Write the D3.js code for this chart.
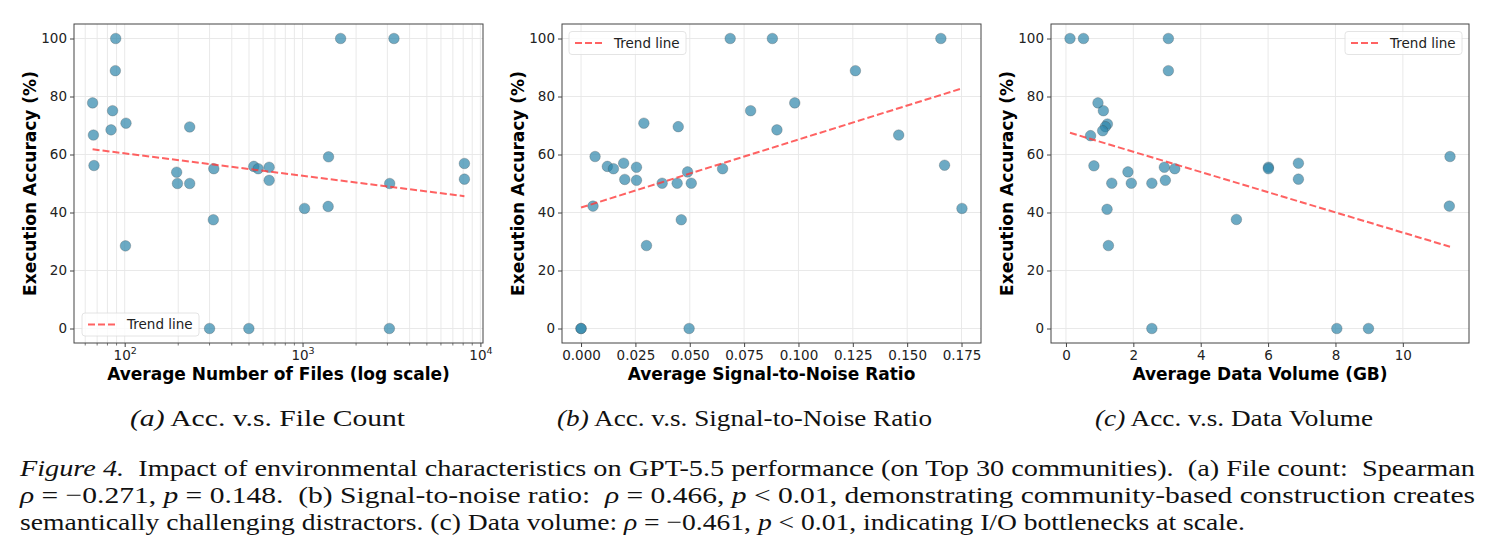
<!DOCTYPE html>
<html>
<head>
<meta charset="utf-8">
<script src="https://cdn.jsdelivr.net/npm/d3@7"></script>
<style>
body { margin: 0; background: #fff; }
text { font-family: "DejaVu Sans", sans-serif; }
</style>
</head>
<body>
<div id="graph"></div>
<script>
var W = 1491, H = 560;

// y values are execution accuracy (%) of the top 30 communities
var yTicks = [0, 20, 40, 60, 80, 100];

// (a) average number of files
var filesX = [89, 1637, 3266, 88.6, 66, 85.5, 83.8, 101.7, 232, 66.7, 67.2, 196, 198, 232, 317,
	532, 563, 649, 649, 1400, 8130, 8130, 3090, 1026, 1393, 315, 101, 300, 499, 3077];
var filesY = [100, 100, 100, 88.9, 77.8, 75.1, 68.5, 70.8, 69.5, 66.7, 56.2, 53.9, 50, 50, 55.1,
	55.9, 55.1, 55.6, 51.1, 59.2, 56.9, 51.5, 50, 41.4, 42.1, 37.5, 28.5, 0, 0, 0];
var filesMajor = [100, 1000, 10000];

// (b) average signal-to-noise ratio
var snrX = [0.0686, 0.088, 0.1655, 0.1262, 0.0983, 0.078, 0.0289, 0.0447, 0.0901, 0.1461, 0.00645,
	0.1672, 0.0196, 0.0121, 0.0149, 0.0255, 0.0201, 0.0255, 0.049, 0.0651, 0.0373, 0.0442, 0.0507,
	0.0055, 0.1752, 0.0461, 0.0301, 0, 0, 0.0497];
var snrY = [100, 100, 100, 88.9, 77.8, 75.1, 70.8, 69.6, 68.5, 66.7, 59.3, 56.3, 57, 55.9, 55.1,
	55.6, 51.4, 51.1, 54, 55.1, 50.1, 50.1, 50.1, 42.2, 41.4, 37.5, 28.6, 0, 0, 0];
var snrTicks = [0, 0.025, 0.05, 0.075, 0.1, 0.125, 0.15, 0.175];

// (c) average data volume (GB)
var volX = [0.12, 0.52, 3.04, 3.04, 0.95, 1.11, 1.23, 1.17, 1.09, 0.73, 0.83, 11.4, 6.9, 6.9, 6.01,
	6.01, 2.92, 3.23, 2.95, 1.84, 1.36, 1.94, 2.55, 1.22, 11.38, 5.06, 1.26, 2.55, 8.04, 8.98];
var volY = [100, 100, 100, 88.9, 77.8, 75.1, 70.5, 69.6, 68.2, 66.5, 56.1, 59.3, 57, 51.5, 55.6,
	55.1, 55.6, 55.1, 51.1, 54, 50.1, 50.1, 50.1, 41.1, 42.2, 37.6, 28.6, 0, 0, 0];
var volTicks = [0, 2, 4, 6, 8, 10];

var subCaptions = ["Acc. v.s. File Count", "Acc. v.s. Signal-to-Noise Ratio", "Acc. v.s. Data Volume"];
var subLetters = ["(a)", "(b)", "(c)"];
var xLabels = ["Average Number of Files (log scale)", "Average Signal-to-Noise Ratio", "Average Data Volume (GB)"];

var serif = "'Liberation Serif', 'Times New Roman', Times, serif";

var svg = d3.select("#graph")
	.append("svg")
	.attr("width", W)
	.attr("height", H);

function fit(xs, ys) {
	var mx = d3.mean(xs), my = d3.mean(ys);
	var sxy = d3.sum(xs, function(d, i) { return (d - mx) * (ys[i] - my); });
	var sxx = d3.sum(xs, function(d) { return (d - mx) * (d - mx); });
	var b = sxy / sxx;
	return { slope: b, icpt: my - b * mx };
}

function pad(ext) {
	var r = ext[1] - ext[0];
	return [ext[0] - 0.05 * r, ext[1] + 0.05 * r];
}

var panels = [
	{ left: 74, right: 483, xs: filesX, ys: filesY, log: true, legend: "ll", labelX: 30, capX: 130, capW: 275 },
	{ left: 562, right: 981, xs: snrX, ys: snrY, log: false, ticks: snrTicks, fmt: d3.format(".3f"), legend: "ul", labelX: 518, capX: 557, capW: 375 },
	{ left: 1051, right: 1469, xs: volX, ys: volY, log: false, ticks: volTicks, fmt: d3.format("d"), legend: "ur", labelX: 1007, capX: 1095, capW: 278 }
];
var plotTop = 24, plotBottom = 343;

panels.forEach(function(p, k) {
	var w = p.right - p.left, h = plotBottom - plotTop;
	var g = svg.append("g").attr("transform", "translate(" + p.left + "," + plotTop + ")");

	var x;
	if (p.log) {
		var le = pad(d3.extent(p.xs, function(d) { return Math.log10(d); }));
		x = d3.scaleLog().domain([Math.pow(10, le[0]), Math.pow(10, le[1])]).range([0, w]);
	} else {
		x = d3.scaleLinear().domain(pad(d3.extent(p.xs))).range([0, w]);
	}
	var y = d3.scaleLinear().domain(pad(d3.extent(p.ys))).range([h, 0]);

	// grid
	var xGrid, minor = [];
	if (p.log) {
		var dom = x.domain();
		[1, 2, 3].forEach(function(e) {
			for (var m = 2; m <= 9; m++) {
				var v = m * Math.pow(10, e);
				if (v > dom[0] && v < dom[1]) minor.push(v);
			}
		});
		xGrid = filesMajor.filter(function(v) { return v < dom[1]; }).concat(minor);
	} else {
		xGrid = p.ticks;
	}
	g.selectAll(".gx").data(xGrid).enter().append("line")
		.attr("x1", function(d) { return x(d); })
		.attr("x2", function(d) { return x(d); })
		.attr("y1", 0).attr("y2", h)
		.attr("stroke", "#e6e6e6").attr("stroke-width", 0.9);
	g.selectAll(".gy").data(yTicks).enter().append("line")
		.attr("x1", 0).attr("x2", w)
		.attr("y1", function(d) { return y(d); })
		.attr("y2", function(d) { return y(d); })
		.attr("stroke", "#e6e6e6").attr("stroke-width", 0.9);

	// points
	g.selectAll(".pt").data(p.xs).enter().append("circle")
		.attr("cx", function(d) { return x(d); })
		.attr("cy", function(d, i) { return y(p.ys[i]); })
		.attr("r", 5.3)
		.attr("fill", "#2E86AB")
		.attr("fill-opacity", 0.7)
		.attr("stroke", "#444")
		.attr("stroke-opacity", 0.45)
		.attr("stroke-width", 0.6);

	// trend line (least squares, on log10 x for the file count panel)
	var tx = p.log ? p.xs.map(function(d) { return Math.log10(d); }) : p.xs;
	var f = fit(tx, p.ys);
	var ex = d3.extent(p.xs);
	var tline = ex.map(function(d) {
		var t = p.log ? Math.log10(d) : d;
		return [x(d), y(f.icpt + f.slope * t)];
	});
	g.append("path")
		.attr("d", d3.line()(tline))
		.attr("fill", "none")
		.attr("stroke", "#ff3b3b")
		.attr("stroke-opacity", 0.8)
		.attr("stroke-width", 2)
		.attr("stroke-dasharray", "7,3");

	// frame
	g.append("rect").attr("width", w).attr("height", h)
		.attr("fill", "none").attr("stroke", "#444").attr("stroke-width", 1);

	// axes
	var ya = g.append("g").call(d3.axisLeft(y).tickValues(yTicks).tickSize(4).tickPadding(3));
	var xa;
	if (p.log) {
		xa = g.append("g").attr("transform", "translate(0," + h + ")")
			.call(d3.axisBottom(x).tickValues(filesMajor).tickSize(4).tickPadding(3).tickFormat(""));
		xa.selectAll(".tick").append("text")
			.attr("fill", "#222").attr("y", 16.5).attr("text-anchor", "middle")
			.style("font-size", "13.5px")
			.each(function(d) {
				var t = d3.select(this);
				t.append("tspan").text("10");
				t.append("tspan").attr("dy", -6).style("font-size", "9.5px").text(Math.round(Math.log10(d)));
			});
		g.append("g").attr("transform", "translate(0," + h + ")")
			.selectAll("line").data(minor).enter().append("line")
			.attr("x1", function(d) { return x(d); }).attr("x2", function(d) { return x(d); })
			.attr("y1", 0).attr("y2", 2.5).attr("stroke", "#444").attr("stroke-width", 0.7);
	} else {
		xa = g.append("g").attr("transform", "translate(0," + h + ")")
			.call(d3.axisBottom(x).tickValues(p.ticks).tickSize(4).tickPadding(3).tickFormat(p.fmt));
	}
	[ya, xa].forEach(function(a) {
		a.select(".domain").remove();
		a.selectAll("line").attr("stroke", "#444");
		a.selectAll("text").attr("fill", "#222").style("font-size", "13.5px");
	});

	// axis labels
	svg.append("text")
		.attr("transform", "translate(" + p.labelX + "," + (plotTop + h / 2) + ") rotate(-90)")
		.attr("text-anchor", "middle").attr("dy", "0.35em")
		.style("font-size", "17px").style("font-weight", "bold")
		.text("Execution Accuracy (%)");
	svg.append("text")
		.attr("x", p.left + w / 2).attr("y", 380)
		.attr("text-anchor", "middle")
		.style("font-size", "17px").style("font-weight", "bold")
		.text(xLabels[k]);

	// legend
	var lw = 117, lh = 23, lx, ly;
	if (p.legend == "ll") { lx = 8; ly = h - 7 - lh; }
	else if (p.legend == "ul") { lx = 7; ly = 7.5; }
	else { lx = w - 7 - lw; ly = 7.5; }
	var lg = g.append("g").attr("transform", "translate(" + lx + "," + ly + ")");
	lg.append("rect").attr("width", lw).attr("height", lh).attr("rx", 3)
		.attr("fill", "#fff").attr("fill-opacity", 0.8)
		.attr("stroke", "#ddd").attr("stroke-width", 0.8);
	lg.append("line").attr("x1", 6).attr("x2", 34).attr("y1", lh / 2).attr("y2", lh / 2)
		.attr("stroke", "#ff3b3b").attr("stroke-opacity", 0.8)
		.attr("stroke-width", 2).attr("stroke-dasharray", "7,3");
	lg.append("text").attr("x", 45).attr("y", lh / 2).attr("dy", "0.35em")
		.style("font-size", "13.5px").attr("fill", "#222").text("Trend line");

	// sub caption
	var sc = svg.append("text")
		.attr("x", p.capX).attr("y", 426)
		.attr("textLength", p.capW).attr("lengthAdjust", "spacingAndGlyphs")
		.style("font-family", serif).style("font-size", "23px")
		.attr("fill", "#111");
	sc.append("tspan").style("font-style", "italic").text(subLetters[k]);
	sc.append("tspan").text(" " + subCaptions[k]);
});

// figure caption lines
var capLines = [
	[["Figure 4.", "i"], ["  Impact of environmental characteristics on GPT-5.5 performance (on Top 30 communities).  (a) File count:  Spearman", ""]],
	[["\u03C1", "i"], [" = \u22120.271, ", ""], ["p", "i"], [" = 0.148.  (b) Signal-to-noise ratio:  ", ""], ["\u03C1", "i"], [" = 0.466, ", ""], ["p", "i"], [" < 0.01, demonstrating community-based construction creates", ""]],
	[["semantically challenging distractors. (c) Data volume: ", ""], ["\u03C1", "i"], [" = \u22120.461, ", ""], ["p", "i"], [" < 0.01, indicating I/O bottlenecks at scale.", ""]]
];
var capY = [476, 503, 530];
var capW = [1455, 1455, 1225];
capLines.forEach(function(line, i) {
	var t = svg.append("text")
		.attr("x", 20).attr("y", capY[i])
		.attr("xml:space", "preserve")
		.style("white-space", "pre")
		.attr("textLength", capW[i]).attr("lengthAdjust", "spacingAndGlyphs")
		.style("font-family", serif).style("font-size", "24px")
		.attr("fill", "#111");
	line.forEach(function(s) {
		t.append("tspan").style("font-style", s[1] == "i" ? "italic" : "normal").text(s[0]);
	});
});
</script>
</body>
</html>
